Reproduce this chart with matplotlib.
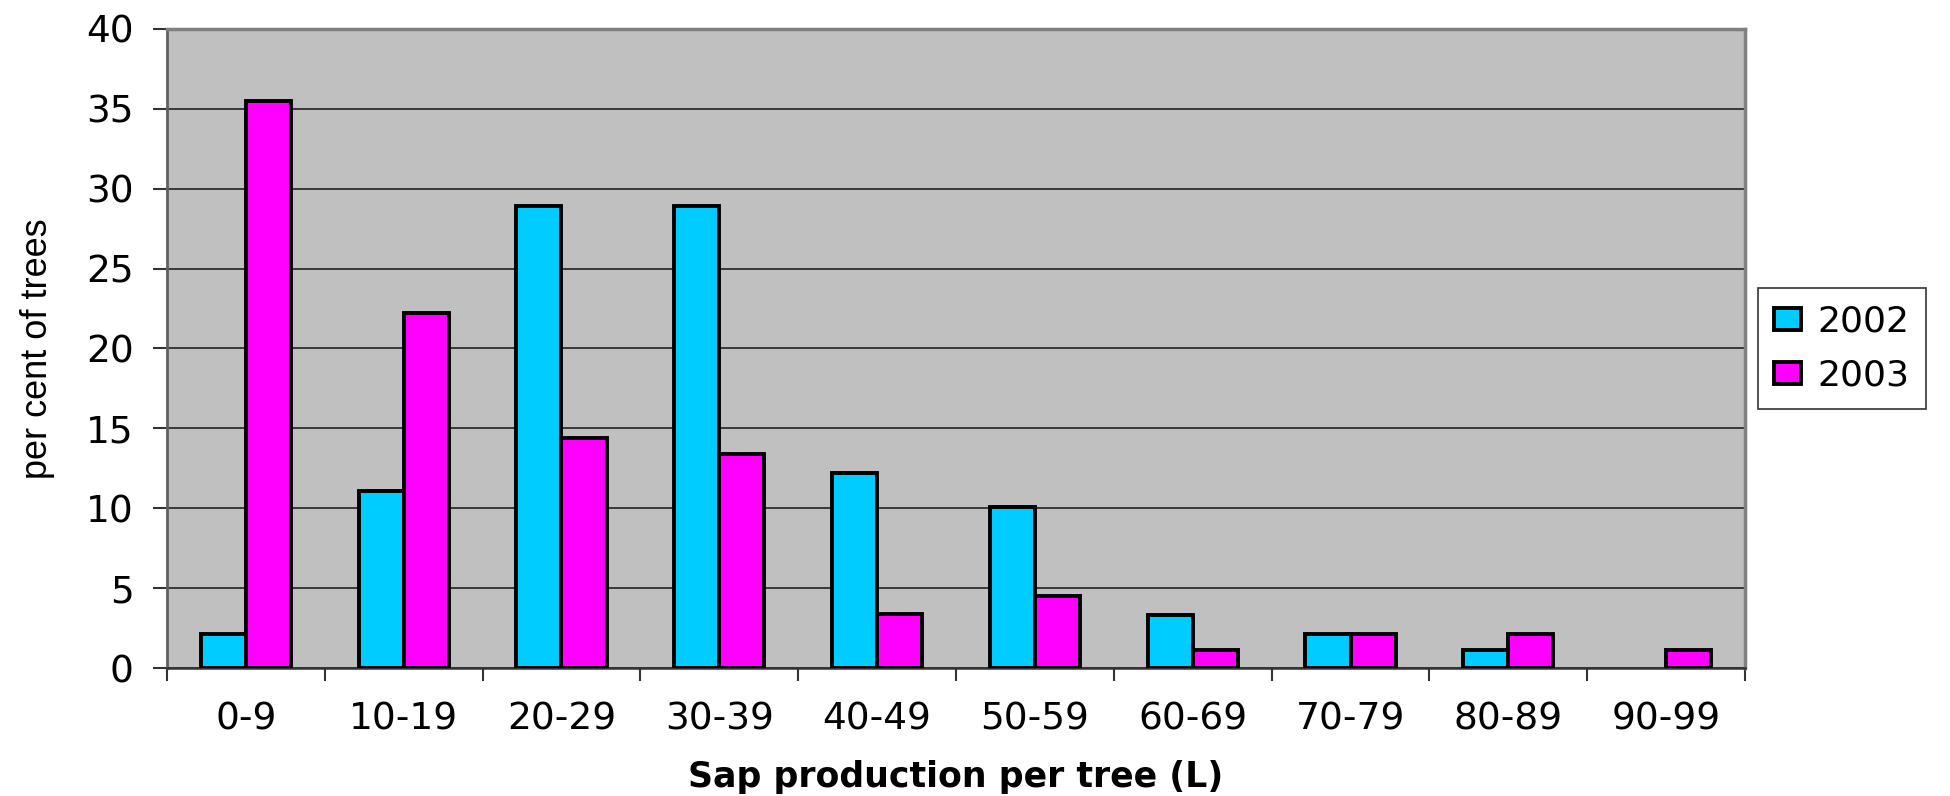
import numpy as np
import matplotlib
matplotlib.use("Agg")
import matplotlib.pyplot as plt

# sap production classes (L) and share of trees (%)
categories = ["0-9", "10-19", "20-29", "30-39", "40-49",
              "50-59", "60-69", "70-79", "80-89", "90-99"]
pct_2002 = [2.1, 11.1, 28.9, 28.9, 12.2, 10.1, 3.3, 2.1, 1.1, 0.0]
pct_2003 = [35.5, 22.2, 14.4, 13.4, 3.4, 4.5, 1.1, 2.1, 2.1, 1.1]
years = ["2002", "2003"]
yticks = [0, 5, 10, 15, 20, 25, 30, 35, 40]

plt.rcParams['font.family'] = ['DejaVu Sans']

fig = plt.figure(figsize=(19.5, 7.96), dpi=100)
ax = fig.add_axes([0.0856, 0.1608, 0.8093, 0.8028])
ax.set_facecolor("#C0C0C0")

x = np.arange(len(categories))
w = 1 / 3.5  # excel gap width 150
lw_a = [2.8 if v > 0 else 0 for v in pct_2002]
lw_b = [2.8 if v > 0 else 0 for v in pct_2003]
ax.bar(x - w / 2, pct_2002, w, color="#00CCFF", edgecolor="black",
       linewidth=lw_a, label=years[0], zorder=3)
ax.bar(x + w / 2, pct_2003, w, color="#FF00FF", edgecolor="black",
       linewidth=lw_b, label=years[1], zorder=3)

ax.set_xlim(-0.5, len(categories) - 0.5)
ax.set_ylim(0, 40)
ax.set_yticks(yticks)
ax.yaxis.grid(True, color="#222222", linewidth=1.2, zorder=1)
ax.set_axisbelow(True)

ax.set_xticks(x)
ax.set_xticklabels(categories, fontsize=27)
ax.set_xticks(np.arange(len(categories) + 1) - 0.5, minor=True)
ax.tick_params(axis="x", which="major", length=0, pad=24)
ax.tick_params(axis="x", which="minor", length=9, width=1.5, color="#333333")
ax.tick_params(axis="y", length=10, width=1.5, color="#333333",
               labelsize=27, pad=14)

for s in ["top", "right"]:
    ax.spines[s].set_color("#808080")
    ax.spines[s].set_linewidth(2.5)
ax.spines["left"].set_color("#606060")
ax.spines["left"].set_linewidth(2)
ax.spines["bottom"].set_color("#333333")
ax.spines["bottom"].set_linewidth(1.8)

ax.set_xlabel("Sap production per tree (L)", fontsize=25, fontweight="bold",
              labelpad=16)
ax.set_ylabel("per cent of trees", fontsize=26,
              family=["Liberation Sans Narrow", "DejaVu Sans Condensed", "Liberation Sans"])
ax.yaxis.set_label_coords(-0.071, 0.5)

leg = ax.legend(loc="center left", bbox_to_anchor=(1.008, 0.5), fontsize=26,
                frameon=True, fancybox=False, edgecolor="black",
                handlelength=0.75, handleheight=0.55, handletextpad=0.45,
                borderpad=0.45, labelspacing=0.55, borderaxespad=0)
leg.get_frame().set_linewidth(1.2)
for h in leg.legend_handles:
    h.set_linewidth(2.8)

fig.savefig("out.png", dpi=100)
